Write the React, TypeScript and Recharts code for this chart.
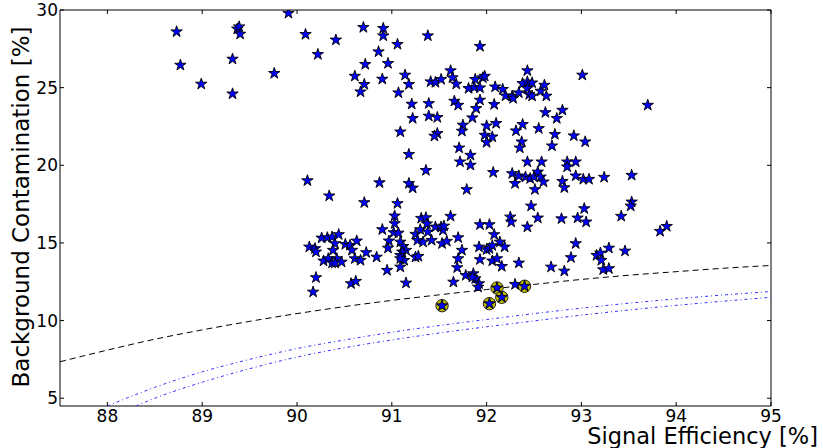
import React from "react";
import { ComposedChart, XAxis, YAxis, Scatter, Line, ReferenceArea, Label } from "recharts";

// ---- data ----
const xTicks = [88, 89, 90, 91, 92, 93, 94, 95];
const yTicks = [5, 10, 15, 20, 25, 30];

const stars: { x: number; y: number }[] = [
  { x: 88.73, y: 28.6 }, { x: 88.77, y: 26.45 }, { x: 88.99, y: 25.23 }, { x: 89.32, y: 26.84 },
  { x: 89.32, y: 24.6 }, { x: 89.37, y: 28.78 }, { x: 89.39, y: 28.92 }, { x: 89.4, y: 28.45 },
  { x: 89.76, y: 25.92 }, { x: 89.91, y: 29.79 }, { x: 90.09, y: 28.43 }, { x: 90.22, y: 27.14 },
  { x: 90.41, y: 28.07 }, { x: 90.7, y: 28.88 }, { x: 90.91, y: 28.82 }, { x: 90.91, y: 28.34 },
  { x: 90.86, y: 27.31 }, { x: 91.06, y: 27.79 }, { x: 91.38, y: 28.34 }, { x: 91.93, y: 27.66 },
  { x: 90.72, y: 26.5 }, { x: 90.96, y: 26.56 }, { x: 90.61, y: 25.74 }, { x: 90.9, y: 25.55 },
  { x: 91.14, y: 25.81 }, { x: 90.71, y: 25.21 }, { x: 91.18, y: 25.21 }, { x: 90.67, y: 24.73 },
  { x: 91.07, y: 24.67 }, { x: 91.21, y: 23.94 }, { x: 91.22, y: 23.02 }, { x: 91.09, y: 22.15 },
  { x: 91.18, y: 20.7 }, { x: 91.36, y: 19.67 }, { x: 90.11, y: 19.01 }, { x: 90.87, y: 18.88 },
  { x: 91.62, y: 26.09 }, { x: 91.64, y: 25.64 }, { x: 91.41, y: 25.38 }, { x: 91.46, y: 25.34 },
  { x: 91.52, y: 25.53 }, { x: 91.68, y: 25.23 }, { x: 91.81, y: 24.95 }, { x: 91.88, y: 25.53 },
  { x: 91.87, y: 25.02 }, { x: 91.93, y: 24.99 }, { x: 91.96, y: 25.64 }, { x: 91.98, y: 25.74 },
  { x: 92.09, y: 25.05 }, { x: 92.17, y: 24.89 }, { x: 92.2, y: 24.47 }, { x: 92.27, y: 24.46 },
  { x: 92.28, y: 24.31 }, { x: 92.34, y: 24.67 }, { x: 92.43, y: 26.09 }, { x: 92.38, y: 25.27 },
  { x: 92.43, y: 25.38 }, { x: 92.48, y: 25.31 }, { x: 92.43, y: 24.95 }, { x: 92.45, y: 24.56 },
  { x: 92.48, y: 24.46 }, { x: 92.57, y: 24.78 }, { x: 92.61, y: 25.16 }, { x: 92.63, y: 24.46 },
  { x: 91.39, y: 23.98 }, { x: 91.66, y: 24.13 }, { x: 91.7, y: 23.87 }, { x: 91.93, y: 24.2 },
  { x: 91.89, y: 23.66 }, { x: 92.08, y: 23.92 }, { x: 91.39, y: 23.17 }, { x: 91.48, y: 23.08 },
  { x: 91.85, y: 23.06 }, { x: 92.62, y: 23.4 }, { x: 92.74, y: 23.02 }, { x: 91.75, y: 22.59 },
  { x: 91.74, y: 22.2 }, { x: 92.0, y: 22.54 }, { x: 92.1, y: 22.7 }, { x: 92.38, y: 22.63 },
  { x: 92.31, y: 22.22 }, { x: 92.55, y: 22.37 }, { x: 91.48, y: 22.05 }, { x: 91.45, y: 21.88 },
  { x: 91.98, y: 21.94 }, { x: 92.06, y: 21.83 }, { x: 92.0, y: 21.47 }, { x: 92.37, y: 21.51 },
  { x: 92.35, y: 21.12 }, { x: 92.72, y: 21.99 }, { x: 92.69, y: 21.25 }, { x: 91.71, y: 21.12 },
  { x: 91.83, y: 20.65 }, { x: 91.72, y: 20.22 }, { x: 91.83, y: 20.01 }, { x: 92.43, y: 20.22 },
  { x: 92.58, y: 20.22 }, { x: 92.07, y: 19.54 }, { x: 92.27, y: 19.47 }, { x: 92.3, y: 18.83 },
  { x: 92.34, y: 19.32 }, { x: 92.41, y: 19.25 }, { x: 92.46, y: 19.15 }, { x: 92.5, y: 19.25 },
  { x: 92.54, y: 19.57 }, { x: 92.57, y: 19.25 }, { x: 92.6, y: 18.93 }, { x: 92.51, y: 18.44 },
  { x: 93.01, y: 25.81 }, { x: 93.7, y: 23.87 }, { x: 92.8, y: 23.55 }, { x: 92.92, y: 21.9 },
  { x: 93.04, y: 21.51 }, { x: 92.85, y: 20.22 }, { x: 92.94, y: 20.22 }, { x: 92.85, y: 19.9 },
  { x: 92.94, y: 19.32 }, { x: 93.02, y: 19.1 }, { x: 93.08, y: 19.1 }, { x: 93.24, y: 19.23 },
  { x: 93.53, y: 19.36 }, { x: 92.8, y: 18.97 }, { x: 92.82, y: 18.56 }, { x: 93.53, y: 17.64 },
  { x: 93.52, y: 17.38 }, { x: 93.03, y: 17.21 }, { x: 93.42, y: 16.72 }, { x: 92.79, y: 16.56 },
  { x: 92.96, y: 16.61 }, { x: 93.05, y: 16.35 }, { x: 93.83, y: 15.75 }, { x: 93.9, y: 16.07 },
  { x: 92.94, y: 14.96 }, { x: 93.29, y: 14.67 }, { x: 93.46, y: 14.48 }, { x: 93.16, y: 14.2 },
  { x: 93.2, y: 14.35 }, { x: 93.21, y: 13.88 }, { x: 92.89, y: 14.06 }, { x: 93.23, y: 13.28 },
  { x: 93.29, y: 13.35 }, { x: 92.82, y: 13.19 }, { x: 91.18, y: 18.83 }, { x: 91.22, y: 18.54 },
  { x: 90.34, y: 18.03 }, { x: 90.71, y: 17.6 }, { x: 91.06, y: 17.54 }, { x: 91.03, y: 16.74 },
  { x: 91.03, y: 16.25 }, { x: 91.31, y: 16.59 }, { x: 90.9, y: 15.86 }, { x: 91.02, y: 15.67 },
  { x: 91.07, y: 15.64 }, { x: 91.25, y: 15.56 }, { x: 91.3, y: 15.86 }, { x: 91.27, y: 15.17 },
  { x: 91.33, y: 15.06 }, { x: 90.97, y: 15.13 }, { x: 91.09, y: 15.06 }, { x: 90.96, y: 14.67 },
  { x: 91.12, y: 14.78 }, { x: 91.15, y: 14.53 }, { x: 91.11, y: 14.42 }, { x: 91.09, y: 14.2 },
  { x: 91.13, y: 13.88 }, { x: 91.09, y: 13.99 }, { x: 91.25, y: 14.09 }, { x: 91.28, y: 14.14 },
  { x: 91.09, y: 13.45 }, { x: 90.95, y: 13.24 }, { x: 91.15, y: 12.42 }, { x: 90.26, y: 15.32 },
  { x: 90.32, y: 15.34 }, { x: 90.37, y: 15.38 }, { x: 90.44, y: 15.54 }, { x: 90.13, y: 14.74 },
  { x: 90.19, y: 14.64 }, { x: 90.2, y: 14.42 }, { x: 90.4, y: 14.96 }, { x: 90.51, y: 14.91 },
  { x: 90.56, y: 14.85 }, { x: 90.63, y: 15.13 }, { x: 90.38, y: 14.53 }, { x: 90.58, y: 14.53 },
  { x: 90.73, y: 14.38 }, { x: 90.84, y: 14.09 }, { x: 90.28, y: 13.84 }, { x: 90.33, y: 13.99 },
  { x: 90.37, y: 13.71 }, { x: 90.42, y: 13.99 }, { x: 90.4, y: 13.71 }, { x: 90.47, y: 13.77 },
  { x: 90.61, y: 13.99 }, { x: 90.67, y: 13.88 }, { x: 90.2, y: 12.77 }, { x: 90.17, y: 11.84 },
  { x: 90.57, y: 12.38 }, { x: 90.62, y: 12.53 }, { x: 91.79, y: 18.44 }, { x: 92.47, y: 17.38 },
  { x: 92.54, y: 16.61 }, { x: 92.43, y: 16.03 }, { x: 92.25, y: 16.67 }, { x: 92.26, y: 16.35 },
  { x: 91.62, y: 16.72 }, { x: 91.36, y: 16.63 }, { x: 91.37, y: 16.23 }, { x: 91.38, y: 15.71 },
  { x: 91.46, y: 16.03 }, { x: 91.52, y: 16.03 }, { x: 91.54, y: 15.82 }, { x: 91.55, y: 16.09 },
  { x: 91.42, y: 15.17 }, { x: 91.53, y: 14.96 }, { x: 91.58, y: 15.11 }, { x: 91.7, y: 15.34 },
  { x: 91.93, y: 16.18 }, { x: 92.03, y: 16.18 }, { x: 92.08, y: 15.54 }, { x: 92.14, y: 15.06 },
  { x: 92.19, y: 14.74 }, { x: 91.92, y: 14.74 }, { x: 92.0, y: 14.57 }, { x: 92.03, y: 14.64 },
  { x: 92.06, y: 14.83 }, { x: 91.74, y: 14.53 }, { x: 91.7, y: 13.99 }, { x: 91.93, y: 13.93 },
  { x: 92.06, y: 13.84 }, { x: 92.11, y: 13.99 }, { x: 92.16, y: 13.49 }, { x: 92.34, y: 13.71 },
  { x: 92.68, y: 13.45 }, { x: 91.69, y: 13.41 }, { x: 91.65, y: 12.48 }, { x: 91.78, y: 12.91 },
  { x: 91.86, y: 13.02 }, { x: 91.88, y: 12.7 }, { x: 91.85, y: 12.8 }, { x: 91.92, y: 12.38 },
  { x: 91.91, y: 12.16 }, { x: 92.3, y: 12.33 },
  { x: 91.53, y: 10.96 }, { x: 92.03, y: 11.09 }, { x: 92.11, y: 12.1 }, { x: 92.16, y: 11.5 },
  { x: 92.4, y: 12.21 },
];

const highlighted: { x: number; y: number }[] = [
  { x: 91.53, y: 10.96 }, { x: 92.03, y: 11.09 }, { x: 92.11, y: 12.1 }, { x: 92.16, y: 11.5 },
  { x: 92.4, y: 12.21 },
];

const dashedCurve = [
  { x: 87.5, y: 7.35 }, { x: 88, y: 8.1 }, { x: 88.5, y: 8.8 }, { x: 89, y: 9.4 },
  { x: 89.5, y: 9.95 }, { x: 90, y: 10.45 }, { x: 90.5, y: 10.9 }, { x: 91, y: 11.3 },
  { x: 91.5, y: 11.66 }, { x: 92, y: 12.0 }, { x: 92.5, y: 12.33 }, { x: 93, y: 12.65 },
  { x: 93.5, y: 12.92 }, { x: 94, y: 13.15 }, { x: 94.5, y: 13.37 }, { x: 95, y: 13.55 },
];

const blueUpper = [
  { x: 88, y: 4.5 }, { x: 88.5, y: 5.7 }, { x: 89, y: 6.7 }, { x: 89.5, y: 7.5 },
  { x: 90, y: 8.2 }, { x: 90.5, y: 8.75 }, { x: 91, y: 9.25 }, { x: 91.5, y: 9.68 },
  { x: 92, y: 10.07 }, { x: 92.5, y: 10.45 }, { x: 93, y: 10.8 }, { x: 93.5, y: 11.12 },
  { x: 94, y: 11.4 }, { x: 94.5, y: 11.65 }, { x: 95, y: 11.87 },
];

const blueLower = [
  { x: 88.3, y: 4.5 }, { x: 88.5, y: 5.0 }, { x: 89, y: 6.03 }, { x: 89.5, y: 6.9 },
  { x: 90, y: 7.65 }, { x: 90.5, y: 8.25 }, { x: 91, y: 8.75 }, { x: 91.5, y: 9.2 },
  { x: 92, y: 9.6 }, { x: 92.5, y: 9.98 }, { x: 93, y: 10.35 }, { x: 93.5, y: 10.68 },
  { x: 94, y: 10.98 }, { x: 94.5, y: 11.25 }, { x: 95, y: 11.5 },
];

// ---- layout ----
const W = 823;
const H = 448;
const PLOT_LEFT = 60;
const PLOT_TOP = 10;
const PLOT_RIGHT = 771;
const PLOT_BOTTOM = 406;
const FONT = "DejaVu Sans, Verdana, sans-serif";
const TICK_LEN = 4;

const starPath = (cx: number, cy: number, R: number) => {
  const r = R * 0.381966;
  let d = "";
  for (let i = 0; i < 10; i++) {
    const a = (-90 + i * 36) * (Math.PI / 180);
    const rr = i % 2 === 0 ? R : r;
    const px = cx + rr * Math.cos(a);
    const py = cy + rr * Math.sin(a);
    d += (i === 0 ? "M" : "L") + px.toFixed(2) + "," + py.toFixed(2);
  }
  return d + "Z";
};

const StarShape = (props: any) => {
  const { cx, cy } = props;
  if (cx == null || cy == null) return <g />;
  return <path d={starPath(cx, cy, 6)} fill="#0000ff" stroke="#000" strokeWidth={0.9} strokeLinejoin="miter" />;
};

const CircleShape = (props: any) => {
  const { cx, cy } = props;
  if (cx == null || cy == null) return <g />;
  return <circle cx={cx} cy={cy} r={6.2} fill="#bfbf00" stroke="#222" strokeWidth={1} />;
};

const XTick = (props: any) => {
  const { x, y, payload } = props;
  return (
    <g>
      <line x1={x} x2={x} y1={PLOT_BOTTOM} y2={PLOT_BOTTOM - TICK_LEN} stroke="#000" strokeWidth={1} />
      <line x1={x} x2={x} y1={PLOT_TOP} y2={PLOT_TOP + TICK_LEN} stroke="#000" strokeWidth={1} />
      <text x={x} y={y + 16} textAnchor="middle" fontFamily={FONT} fontSize={17} fill="#000">
        {payload.value}
      </text>
    </g>
  );
};

const YTick = (props: any) => {
  const { x, y, payload } = props;
  return (
    <g>
      <line x1={PLOT_LEFT} x2={PLOT_LEFT + TICK_LEN} y1={y} y2={y} stroke="#000" strokeWidth={1} />
      <line x1={PLOT_RIGHT} x2={PLOT_RIGHT - TICK_LEN} y1={y} y2={y} stroke="#000" strokeWidth={1} />
      <text x={x - 2} y={y} dy="0.36em" textAnchor="end" fontFamily={FONT} fontSize={17} fill="#000">
        {payload.value}
      </text>
    </g>
  );
};

export default function App() {
  return (
    <div style={{ position: "absolute", left: 0, top: 0, width: W, height: H, background: "#fff" }}>
      <ComposedChart
        width={W}
        height={H}
        margin={{ top: PLOT_TOP, right: W - PLOT_RIGHT, bottom: 0, left: 0 }}
      >
        <XAxis
          type="number"
          dataKey="x"
          domain={[87.5, 95]}
          ticks={xTicks}
          allowDataOverflow
          height={H - PLOT_BOTTOM}
          tickSize={0}
          tickMargin={0}
          tickLine={false}
          axisLine={false}
          tick={<XTick />}
          interval={0}
        >
          <Label
            content={() => (
              <text x={818} y={444} textAnchor="end" fontFamily={FONT} fontSize={22.5} fill="#000">
                Signal Efficiency [%]
              </text>
            )}
          />
        </XAxis>
        <YAxis
          type="number"
          dataKey="y"
          domain={[4.5, 30]}
          ticks={yTicks}
          allowDataOverflow
          width={PLOT_LEFT}
          tickSize={0}
          tickMargin={0}
          tickLine={false}
          axisLine={false}
          tick={<YTick />}
          interval={0}
        >
          <Label
            content={() => (
              <text
                x={29}
                y={207}
                transform="rotate(-90, 29, 207)"
                textAnchor="middle"
                fontFamily={FONT}
                fontSize={23}
                fill="#000"
              >
                Background Contamination [%]
              </text>
            )}
          />
        </YAxis>
        <Line
          data={dashedCurve}
          dataKey="y"
          type="monotone"
          stroke="#000"
          strokeWidth={1}
          strokeDasharray="6 4"
          dot={false}
          activeDot={false}
          isAnimationActive={false}
        />
        <Line
          data={blueUpper}
          dataKey="y"
          type="monotone"
          stroke="#3333ff"
          strokeWidth={1}
          strokeDasharray="3 3 1 3"
          dot={false}
          activeDot={false}
          isAnimationActive={false}
        />
        <Line
          data={blueLower}
          dataKey="y"
          type="monotone"
          stroke="#3333ff"
          strokeWidth={1}
          strokeDasharray="3 3 1 3"
          dot={false}
          activeDot={false}
          isAnimationActive={false}
        />
        <Scatter data={highlighted} dataKey="y" shape={<CircleShape />} isAnimationActive={false} />
        <Scatter data={stars} dataKey="y" shape={<StarShape />} isAnimationActive={false} />
        <ReferenceArea
          x1={87.5}
          x2={95}
          y1={4.5}
          y2={30}
          fill="none"
          fillOpacity={0}
          stroke="#000"
          strokeWidth={1}
          ifOverflow="visible"
        />
      </ComposedChart>
    </div>
  );
}
